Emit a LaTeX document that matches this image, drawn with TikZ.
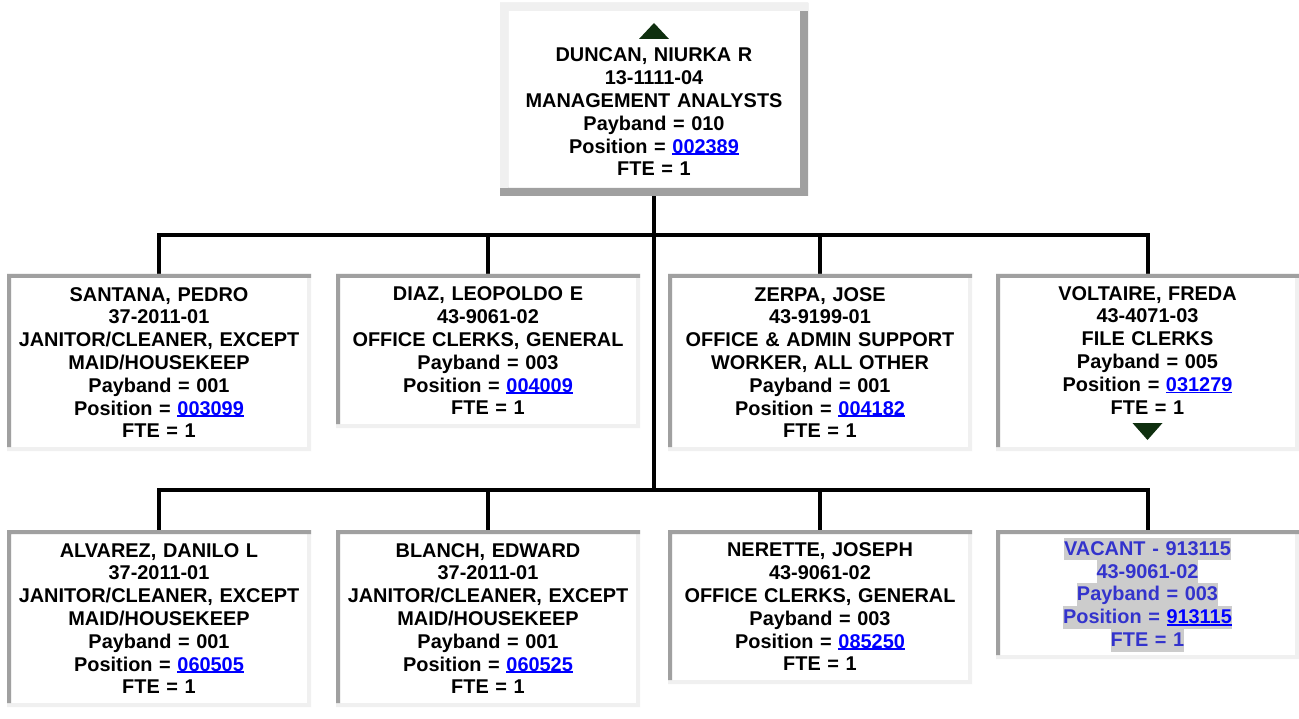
\documentclass[tikz,border=0pt]{standalone}
\usepackage{fontspec}
\setmainfont{Liberation Sans}
\usepackage{tikz}
\usetikzlibrary{positioning,calc}

\definecolor{edgedark}{HTML}{A0A0A0}
\definecolor{edgelight}{HTML}{F0F0F0}
\definecolor{linkblue}{HTML}{0000FF}
\definecolor{vacblue}{HTML}{3333CC}
\definecolor{hilite}{HTML}{CCCCCC}
\definecolor{triangreen}{HTML}{0F2F0F}
\setlength{\fboxsep}{0pt}
% underlined position number
\newcommand{\poslink}[1]{{\color{linkblue}\setbox0\hbox{#1}\rlap{\rule[-2.2pt]{\wd0}{1.9pt}}\box0}}
% grey highlight of one line
\newcommand{\hl}[1]{\colorbox{hilite}{\rule[-5pt]{0pt}{22.8pt}#1}}

\begin{document}
\begin{tikzpicture}[x=1pt,y=-1pt,
  wire/.style={line width=4pt},
  card/.style={rectangle, anchor=north west, inner sep=0pt, outer sep=4pt,
    text width=290pt, align=center, minimum width=296pt,
    font=\fontsize{19.9}{22.8}\selectfont\bfseries},
  pointer/.style={fill=triangreen}]
\useasboundingbox[fill=white] (0,0) rectangle (1299,719);
% Manager
\node[card, outer sep=8pt, minimum width=292pt, minimum height=177pt] (duncan) at (500,3)
  {\rule{0pt}{16pt}\\DUNCAN, NIURKA R\\13-1111-04\\MANAGEMENT ANALYSTS\\Payband = 010\\Position = \poslink{002389}\\FTE = 1};
% First row
\node[card, minimum height=169pt] (santana) at (7,274)
  {SANTANA, PEDRO\\37-2011-01\\JANITOR/CLEANER, EXCEPT\\MAID/HOUSEKEEP\\Payband = 001\\Position = \poslink{003099}\\FTE = 1};
\node[card, minimum height=146pt] (diaz) at (336,274)
  {DIAZ, LEOPOLDO E\\43-9061-02\\OFFICE CLERKS, GENERAL\\Payband = 003\\Position = \poslink{004009}\\FTE = 1};
\node[card, minimum height=169pt] (zerpa) at (668,274)
  {ZERPA, JOSE\\43-9199-01\\OFFICE \& ADMIN SUPPORT\\WORKER, ALL OTHER\\Payband = 001\\Position = \poslink{004182}\\FTE = 1};
\node[card, minimum width=295pt, minimum height=169pt] (voltaire) at (996,274)
  {VOLTAIRE, FREDA\\43-4071-03\\FILE CLERKS\\Payband = 005\\Position = \poslink{031279}\\FTE = 1\\\rule[-2pt]{0pt}{0pt}};
% Second row
\node[card, minimum height=169pt] (alvarez) at (7,530)
  {ALVAREZ, DANILO L\\37-2011-01\\JANITOR/CLEANER, EXCEPT\\MAID/HOUSEKEEP\\Payband = 001\\Position = \poslink{060505}\\FTE = 1};
\node[card, minimum height=169pt] (blanch) at (336,530)
  {BLANCH, EDWARD\\37-2011-01\\JANITOR/CLEANER, EXCEPT\\MAID/HOUSEKEEP\\Payband = 001\\Position = \poslink{060525}\\FTE = 1};
\node[card, minimum height=146pt] (nerette) at (668,530)
  {NERETTE, JOSEPH\\43-9061-02\\OFFICE CLERKS, GENERAL\\Payband = 003\\Position = \poslink{085250}\\FTE = 1};
\node[card, minimum width=295pt, minimum height=121pt, text=vacblue] (vacant) at (996,530)
  {\hl{VACANT - 913115}\\\hl{43-9061-02}\\\hl{Payband = 003}\\\hl{Position = \poslink{913115}}\\\hl{FTE = 1}};
% Connectors
\coordinate (bus1) at (654,235);
\coordinate (bus2) at (654,490);
\draw[wire] (duncan.south) -- (bus2);
\draw[wire] (santana.north) |- (bus1) -| (voltaire.north);
\draw[wire] (diaz.north) |- (bus1);
\draw[wire] (zerpa.north) |- (bus1);
\draw[wire] (alvarez.north) |- (bus2) -| (vacant.north);
\draw[wire] (blanch.north) |- (bus2);
\draw[wire] (nerette.north) |- (bus2);
% Bevelled frames
\foreach \n/\hi/\lo/\b in {duncan/edgelight/edgedark/8, santana/edgedark/edgelight/4,
    diaz/edgedark/edgelight/4, zerpa/edgedark/edgelight/4, voltaire/edgedark/edgelight/4,
    alvarez/edgedark/edgelight/4, blanch/edgedark/edgelight/4, nerette/edgedark/edgelight/4,
    vacant/edgedark/edgelight/4} {
  \fill[\lo, even odd rule] (\n.north west) rectangle (\n.south east)
    ([shift={(\b,\b)}]\n.north west) rectangle ([shift={(-\b,-\b)}]\n.south east);
  \fill[\hi] (\n.north west) -- (\n.north east) -- ([shift={(0,\b)}]\n.north east)
    -- ([shift={(\b,\b)}]\n.north west) -- ([shift={(\b,-\b)}]\n.south west)
    -- ([shift={(0,-\b)}]\n.south west) -- cycle;
}
% Up and down pointers
\fill[pointer] ([shift={(-15,36)}]duncan.north) -- ++(30,0) -- ++(-15,-16) -- cycle;
\fill[pointer] ([shift={(-15,-28)}]voltaire.south) -- ++(30,0) -- ++(-15,17) -- cycle;
\end{tikzpicture}
\end{document}
